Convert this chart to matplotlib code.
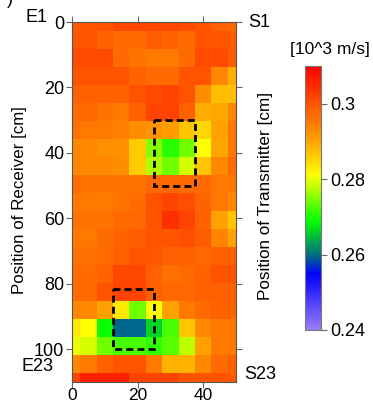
import numpy as np
import matplotlib
matplotlib.use('Agg')
import matplotlib.pyplot as plt
from matplotlib.colors import LinearSegmentedColormap
from matplotlib.patches import Rectangle

plt.rcParams['font.family'] = ['Liberation Sans', 'DejaVu Sans']

# cell centres [cm]
x_cm = [0, 5, 10, 15, 20, 25, 30, 35, 40, 45, 50]
y_cm = [0, 5.5, 11, 16.5, 22, 27.5, 33, 38.5, 44, 49.5, 55, 60.5, 66, 71.5,
        77, 82.5, 88, 93.5, 99, 104.5, 110]

# velocity [10^3 m/s], one row per receiver depth
velocity = [
    [0.299, 0.300, 0.300, 0.3015, 0.3015, 0.3015, 0.3015, 0.301, 0.300, 0.298, 0.297],
    [0.300, 0.300, 0.298, 0.297, 0.297, 0.299, 0.298, 0.297, 0.300, 0.300, 0.299],
    [0.301, 0.301, 0.301, 0.297, 0.296, 0.2955, 0.2955, 0.297, 0.301, 0.301, 0.299],
    [0.300, 0.300, 0.300, 0.300, 0.298, 0.297, 0.297, 0.300, 0.300, 0.2935, 0.289],
    [0.2985, 0.2985, 0.2985, 0.2985, 0.300, 0.301, 0.302, 0.300, 0.293, 0.2875, 0.2875],
    [0.297, 0.297, 0.296, 0.2955, 0.2985, 0.302, 0.302, 0.2985, 0.289, 0.2895, 0.294],
    [0.2965, 0.2955, 0.2955, 0.2945, 0.293, 0.292, 0.291, 0.287, 0.285, 0.2905, 0.2955],
    [0.2935, 0.2935, 0.2925, 0.2925, 0.286, 0.275, 0.2705, 0.274, 0.281, 0.290, 0.2955],
    [0.2935, 0.2935, 0.2935, 0.293, 0.286, 0.277, 0.274, 0.279, 0.2865, 0.2935, 0.297],
    [0.297, 0.296, 0.296, 0.296, 0.296, 0.2975, 0.2975, 0.297, 0.297, 0.2955, 0.2955],
    [0.2955, 0.2955, 0.295, 0.296, 0.297, 0.300, 0.302, 0.3005, 0.298, 0.2955, 0.2935],
    [0.296, 0.296, 0.296, 0.297, 0.2975, 0.300, 0.304, 0.302, 0.2985, 0.2905, 0.2865],
    [0.2955, 0.2955, 0.297, 0.298, 0.299, 0.300, 0.300, 0.3005, 0.299, 0.294, 0.2905],
    [0.2965, 0.2965, 0.297, 0.2985, 0.300, 0.2995, 0.2985, 0.2985, 0.2975, 0.298, 0.2985],
    [0.297, 0.297, 0.298, 0.3015, 0.3015, 0.2985, 0.2965, 0.297, 0.298, 0.300, 0.300],
    [0.297, 0.297, 0.300, 0.302, 0.302, 0.2985, 0.2975, 0.2975, 0.2985, 0.2985, 0.2985],
    [0.2935, 0.2935, 0.2905, 0.283, 0.274, 0.281, 0.2905, 0.2955, 0.297, 0.298, 0.298],
    [0.283, 0.281, 0.269, 0.2595, 0.2595, 0.266, 0.272, 0.2865, 0.2935, 0.2955, 0.2955],
    [0.280, 0.279, 0.274, 0.272, 0.272, 0.271, 0.273, 0.278, 0.2905, 0.2955, 0.2955],
    [0.2935, 0.2955, 0.2985, 0.300, 0.300, 0.2955, 0.2885, 0.2885, 0.2935, 0.297, 0.2985],
    [0.302, 0.306, 0.306, 0.306, 0.302, 0.302, 0.302, 0.300, 0.300, 0.300, 0.299],
]

# dashed boxes: (x0, y0, width, height) in cm
boxes = [(25, 30, 12.5, 20), (12.5, 81.5, 12.5, 18.5)]

cbar_ticks = [0.24, 0.26, 0.28, 0.30]
cbar_labels = ['0.24', '0.26', '0.28', '0.3']

vmin, vmax = 0.24, 0.31
cmap = LinearSegmentedColormap.from_list('vel', [
    (0.0, '#9b7dff'),
    (0.21, '#0000ff'),
    (0.286, '#007080'),
    (0.41, '#00ff00'),
    (0.586, '#ffff00'),
    (0.714, '#ffa500'),
    (0.857, '#ff5400'),
    (1.0, '#ff0000'),
])

fig = plt.figure(figsize=(3.73, 4.05), dpi=100)
ax = fig.add_axes([0.193, 0.057, 0.4397, 0.8886])

mesh = ax.pcolormesh(x_cm, y_cm, np.array(velocity), cmap=cmap, vmin=vmin, vmax=vmax,
                     shading='nearest')
ax.set_xlim(0, 50)
ax.set_ylim(110, 0)

for (x0, y0, w, h) in boxes:
    ax.add_patch(Rectangle((x0, y0), w, h, fill=False, edgecolor='black', lw=2,
                           linestyle=(0, (2.5, 1.5))))

ax.set_xticks([0, 20, 40])
ax.set_yticks([0, 20, 40, 60, 80, 100])
ax.tick_params(direction='out', length=4, width=0.8, color='#666666', labelsize=13,
               pad=1.5, top=True, right=True, labeltop=False, labelright=False)
ax.tick_params(axis='x', pad=0.5, labelsize=12.5)
for s in ax.spines.values():
    s.set_color('#555555')
    s.set_linewidth(0.8)

fig.text(0.051, 0.506, 'Position of Receiver [cm]', rotation=90, fontsize=12.2,
         ha='center', va='center')
fig.text(0.7105, 0.515, 'Position of Transmitter [cm]', rotation=90, fontsize=12.3,
         ha='center', va='center')

ax.text(-10.8, -1.4, 'E1', fontsize=13, ha='center', va='center', clip_on=False)
ax.text(-10.5, 105.4, 'E23', fontsize=13, ha='center', va='center', clip_on=False)
ax.text(57, 0, 'S1', fontsize=13, ha='center', va='center', clip_on=False)
ax.text(57.5, 107.8, 'S23', fontsize=13, ha='center', va='center', clip_on=False)
fig.text(0.027, 1.0, ')', fontsize=13, ha='center', va='center')

cax = fig.add_axes([0.8177, 0.1852, 0.0429, 0.652])
cb = fig.colorbar(mesh, cax=cax, ticks=cbar_ticks)
cb.ax.set_yticklabels(cbar_labels)
cb.ax.tick_params(direction='out', length=4, width=0.8, color='#666666', labelsize=13, pad=3)
cb.outline.set_edgecolor('#777777')
cb.outline.set_linewidth(0.8)
fig.text(0.885, 0.879, '[10^3 m/s]', fontsize=12.5, ha='center', va='center')

fig.savefig('out.png', dpi=100)
